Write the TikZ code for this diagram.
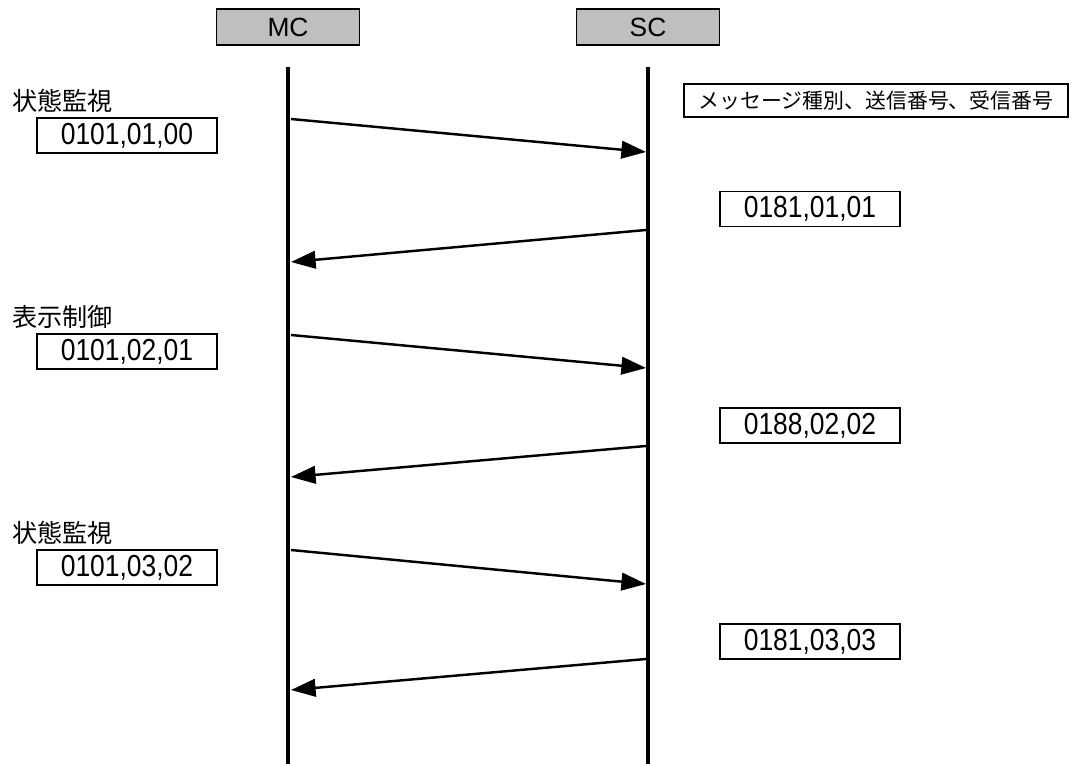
\documentclass[tikz,border=0pt]{standalone}
\usepackage{fontspec}
\setmainfont{Liberation Sans}
\newfontfamily\jpfont{Noto Sans CJK JP}
\newfontfamily\numfont[FakeStretch=0.87]{Liberation Sans}
\usetikzlibrary{arrows.meta}
\usetikzlibrary{positioning}

\begin{document}
\begin{tikzpicture}[x=0.02cm,y=-0.02cm,
		actor/.style={draw,fill=black!25,line width=0.8pt,minimum width=2.86cm,minimum height=0.72cm,inner sep=0pt,font=\fontsize{15}{18}\selectfont},
		msgbox/.style={draw,line width=0.7pt,minimum width=3.6cm,minimum height=0.7cm,inner sep=0pt,font=\numfont\fontsize{17.3}{20}\selectfont},
		kind/.style={anchor=west,inner sep=0pt,font=\jpfont\fontsize{14.3}{17}\selectfont},
		life/.style={line width=2.8pt},
		msg/.style={line width=1.4pt,-{Triangle[length=14pt,width=10pt]}}]
				\useasboundingbox (0,0) rectangle (1080,764);
				% MC and SC
				\node[actor] (mc) at (288,27) {MC};
				\node[actor] (sc) at (648,27) {SC};
				\coordinate (mctop) at (288,67);
				\coordinate (sctop) at (648,67);
				\coordinate (mcend) at (288,764);
				\coordinate (scend) at (648,764);
				\draw[life] (mctop) -- (mcend);
				\draw[life] (sctop) -- (scend);
				% legend
				\node[draw,line width=0.7pt,minimum width=7.68cm,minimum height=0.66cm,inner sep=0pt,font=\jpfont\fontsize{11.9}{14}\selectfont] (legend) at (876,100.5) {メッセージ種別、送信番号、受信番号};
				% points on the lines
				\coordinate (m1) at (291,119); \coordinate (s1) at (646,152);
				\coordinate (s2) at (646,230); \coordinate (m2) at (291,262);
				\coordinate (m3) at (291,335); \coordinate (s3) at (646,368);
				\coordinate (s4) at (646,446); \coordinate (m4) at (291,477);
				\coordinate (m5) at (291,550); \coordinate (s5) at (646,584);
				\coordinate (s6) at (646,659); \coordinate (m6) at (291,690);
				% messages
				\node[kind] (k1) at (12,101) {状態監視};
				\node[msgbox] (q1) at (127,135.5) {0101,01,00};
				\draw[msg] (m1) -- (s1);
				\node[msgbox] (r1) at (810,209) {0181,01,01};
				\draw[msg] (s2) -- (m2);
				\node[kind] (k2) at (12,317) {表示制御};
				\node[msgbox] (q2) at (127,351.5) {0101,02,01};
				\draw[msg] (m3) -- (s3);
				\node[msgbox] (r2) at (810,425.5) {0188,02,02};
				\draw[msg] (s4) -- (m4);
				\node[kind] (k3) at (12,533) {状態監視};
				\node[msgbox] (q3) at (127,567.5) {0101,03,02};
				\draw[msg] (m5) -- (s5);
				\node[msgbox] (r3) at (810,641.5) {0181,03,03};
				\draw[msg] (s6) -- (m6);
			\end{tikzpicture}
\end{document}
